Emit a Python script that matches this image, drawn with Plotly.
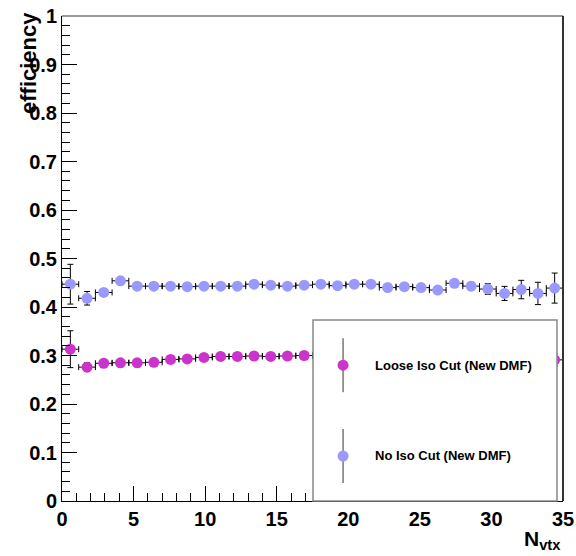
import numpy as np
import plotly.graph_objects as go

# ---- data ----
n_bins = 30
x_min, x_max = 0.0, 35.0
bin_width = (x_max - x_min) / n_bins
bin_centers = [x_min + (i + 0.5) * bin_width for i in range(n_bins)]
bin_half = [bin_width / 2] * n_bins

loose_eff = [0.313, 0.276, 0.284, 0.285, 0.285, 0.286, 0.292, 0.293, 0.296, 0.298,
             0.298, 0.299, 0.298, 0.299, 0.300, 0.300, 0.301, 0.301, 0.300, 0.301,
             0.300, 0.299, 0.300, 0.299, 0.298, 0.297, 0.296, 0.295, 0.294, 0.291]
loose_err = [0.038, 0.009, 0.005, 0.004, 0.004, 0.004, 0.004, 0.004, 0.004, 0.004,
             0.004, 0.004, 0.004, 0.004, 0.004, 0.004, 0.004, 0.004, 0.004, 0.004,
             0.004, 0.004, 0.005, 0.005, 0.005, 0.006, 0.007, 0.008, 0.010, 0.013]

noiso_eff = [0.447, 0.418, 0.430, 0.454, 0.443, 0.443, 0.443, 0.442, 0.443, 0.443,
             0.443, 0.447, 0.445, 0.443, 0.445, 0.447, 0.444, 0.447, 0.447, 0.440,
             0.442, 0.440, 0.435, 0.449, 0.443, 0.437, 0.428, 0.436, 0.428, 0.439]
noiso_err = [0.041, 0.014, 0.005, 0.004, 0.004, 0.004, 0.004, 0.004, 0.004, 0.004,
             0.004, 0.004, 0.004, 0.004, 0.004, 0.004, 0.004, 0.004, 0.004, 0.005,
             0.005, 0.006, 0.007, 0.007, 0.008, 0.011, 0.0145, 0.019, 0.023, 0.031]

series_names = ["Loose Iso Cut (New DMF)", "No Iso Cut (New DMF)"]
series_colors = ["#cc33cc", "#9999ff"]

y_ticks = [0, 0.1, 0.2, 0.3, 0.4, 0.5, 0.6, 0.7, 0.8, 0.9, 1]
y_tick_labels = ["0", "0.1", "0.2", "0.3", "0.4", "0.5", "0.6", "0.7", "0.8", "0.9", "1"]
x_ticks = [0, 5, 10, 15, 20, 25, 30, 35]
x_tick_labels = ["0", "5", "10", "15", "20", "25", "30", "35"]

FONT = "Liberation Sans, Arial, Helvetica, sans-serif"

fig = go.Figure()
for eff, err, name, col in [(loose_eff, loose_err, series_names[0], series_colors[0]),
                            (noiso_eff, noiso_err, series_names[1], series_colors[1])]:
    fig.add_trace(go.Scatter(
        x=bin_centers, y=eff, mode="markers", name=name,
        marker=dict(color=col, size=11, line=dict(width=0)),
        error_y=dict(type="data", array=err, color="black", thickness=1, width=3),
        error_x=dict(type="data", array=bin_half, color="black", thickness=1, width=3),
        showlegend=False,
    ))

axis_common = dict(showgrid=False, zeroline=False, showline=True, linecolor="black",
                   linewidth=1, ticks="inside", tickcolor="black", tickwidth=1,
                   automargin=False,
                   tickfont=dict(family=FONT, size=20, color="black", weight="bold"))

fig.update_xaxes(range=[x_min, x_max], tickvals=x_ticks, ticktext=x_tick_labels,
                 ticklen=15, minor=dict(ticks="inside", ticklen=8, dtick=1, tickcolor="black"),
                 **axis_common)
fig.update_yaxes(range=[0, 1], tickvals=y_ticks, ticktext=y_tick_labels,
                 ticklen=15, minor=dict(ticks="inside", ticklen=8, dtick=0.02, tickcolor="black"),
                 **axis_common)

shapes = [
    dict(type="line", xref="paper", yref="paper", x0=0, x1=1, y0=1, y1=1,
         line=dict(color="#999999", width=2)),
    dict(type="line", xref="paper", yref="paper", x0=1, x1=1, y0=0, y1=1,
         line=dict(color="#333333", width=2)),
    # legend box
    dict(type="rect", xref="paper", yref="paper", x0=0.501, x1=0.988, y0=0.0, y1=0.373,
         fillcolor="white", line=dict(color="#888888", width=1.5), layer="above"),
]
leg_x = 0.561
leg_ys = [0.280, 0.0928]
for ly, col in zip(leg_ys, series_colors):
    shapes.append(dict(type="line", xref="paper", yref="paper", x0=leg_x, x1=leg_x,
                       y0=ly - 27 / 485, y1=ly + 27 / 485,
                       line=dict(color="#333333", width=1), layer="above"))
    shapes.append(dict(type="circle", xref="paper", yref="paper", xsizemode="pixel",
                       ysizemode="pixel", xanchor=leg_x, yanchor=ly,
                       x0=-5.5, x1=5.5, y0=-5.5, y1=5.5,
                       fillcolor=col, line=dict(width=0), layer="above"))

annotations = [
    dict(text="efficiency", textangle=-90, xref="paper", yref="paper",
         x=-0.068, y=0.903, xanchor="center", yanchor="middle", showarrow=False,
         font=dict(family=FONT, size=22, color="black", weight="bold")),
    dict(text="N<sub>vtx</sub>", xref="paper", yref="paper", x=1.0, y=-0.08,
         xanchor="right", yanchor="middle", showarrow=False,
         font=dict(family=FONT, size=21, color="black", weight="bold")),
]
for ly, name in zip(leg_ys, series_names):
    annotations.append(dict(text=name, xref="paper", yref="paper", x=0.621, y=ly,
                            xanchor="left", yanchor="middle", showarrow=False,
                            font=dict(family=FONT, size=13, color="black", weight="bold")))

fig.update_layout(
    width=576, height=556, autosize=False,
    margin=dict(l=62, r=13, t=16, b=55, autoexpand=False),
    plot_bgcolor="white", paper_bgcolor="white",
    shapes=shapes, annotations=annotations,
)

fig.write_html(
    "out.html",
    config={"displayModeBar": False, "responsive": False},
    post_script=("document.documentElement.style.margin='0';"
                 "document.body.style.margin='0';document.body.style.padding='0';"
                 "document.body.style.overflow='hidden';"),
)
